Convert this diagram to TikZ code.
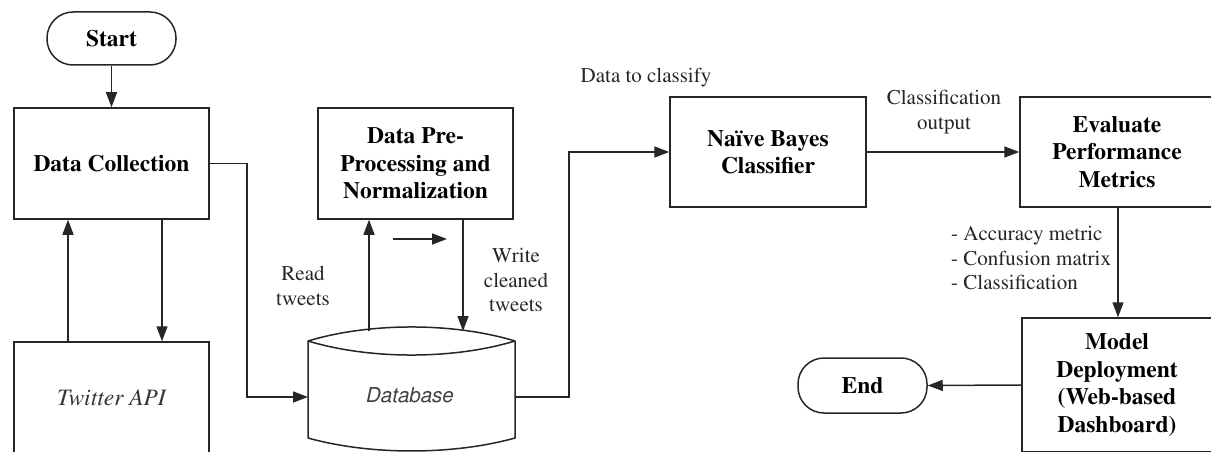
\documentclass[tikz,border=0pt]{standalone}
\usepackage[T1]{fontenc}
\usepackage{mathptmx}
\usepackage{helvet}
\usetikzlibrary{arrows.meta,calc}

\tikzset{
  line/.style={draw=black!85, line width=1.5pt},
  flow/.style={line, -{Triangle[length=15pt,width=11pt]}},
  procbox/.style={line, rectangle, align=center,
    font=\rmfamily\fontsize{23.5}{27.5}\selectfont\bfseries},
  terminal/.style={line, rectangle, rounded corners=26pt,
    minimum width=129pt, align=center,
    font=\rmfamily\fontsize{23.5}{27.5}\selectfont\bfseries},
  lbl/.style={align=center, inner sep=0pt, text=black!85,
    font=\rmfamily\fontsize{21}{24.5}\selectfont},
}

\begin{document}
\begin{tikzpicture}[x=1pt, y=-1pt]
  \clip (0,0) rectangle (1211,452);
  \fill[white] (0,0) rectangle (1211,452);

  % terminals
  \node[terminal, minimum height=53pt] (start) at (111.5,38.5) {Start};
  \node[terminal, minimum height=55pt] (end) at (862.5,385.5) {End};

  % process boxes
  \node[procbox, minimum width=195pt, minimum height=111pt] (dc) at (111.5,163.5) {Data Collection};
  \node[procbox, minimum width=195pt, minimum height=111pt,
        font=\rmfamily\fontsize{23.5}{27.5}\selectfont\itshape, text=black!80] (tw) at (111.5,397.5) {Twitter API};
  \node[procbox, minimum width=195pt, minimum height=111pt] (pre) at (415.5,163.5)
    {Data Pre-\\Processing and\\Normalization};
  \node[procbox, minimum width=196pt, minimum height=110pt] (nb) at (768,152)
    {Na\"{\i}ve Bayes\\Classifier};
  \node[procbox, minimum width=194pt, minimum height=110pt] (ev) at (1117,152)
    {Evaluate\\Performance\\Metrics};
  \node[procbox, minimum width=190pt, minimum height=134pt] (md) at (1117,385)
    {Model\\Deployment\\(Web-based\\Dashboard)};

  % database cylinder
  \node[inner sep=0pt, minimum width=207pt, minimum height=112pt,
        font=\sffamily\fontsize{20.5}{24}\selectfont\itshape, text=black!75] (db) at (409,395) {Database};
  \draw[line, line join=round]
    (308,341) .. controls (370,322.3) and (453,322.3) .. (515,341)
    -- (515,438) .. controls (453,455.3) and (370,455.3) .. (308,438) -- cycle;
  \draw[line] (308,341) .. controls (370,359.7) and (453,359.7) .. (515,341);
  \coordinate (dbread) at (369,331);
  \coordinate (dbwrite) at (463,331);
  \coordinate (dbin) at (308,397);
  \coordinate (dbout) at (515,397);

  % connectors
  \draw[flow] (start) -- (dc);
  \draw[flow] ([xshift=-43.5pt]tw.north) -- ([xshift=-43.5pt]dc.south);
  \draw[flow] ([xshift=50.5pt]dc.south) -- ([xshift=50.5pt]tw.north);
  \draw[flow] (dc.east) -- ++(37,0) |- (dbin);
  \draw[flow] (dbread) -- (dbread |- pre.south);
  \draw[flow] (dbwrite |- pre.south) -- (dbwrite);
  \coordinate (sa) at (393,239);
  \coordinate (sb) at (447,239);
  \draw[flow] (sa) -- (sb);
  \draw[flow] (dbout) -- (569,397) |- (nb.west);
  \draw[flow] (nb.east) -- (ev.west |- nb.east);
  \draw[flow] ([xshift=1pt]ev.south) -- ([xshift=1pt]md.north);
  \draw[flow] (md.west) -- (end.east);

  % labels
  \node[lbl] (lread) at (303,286) {Read\\tweets};
  \node[lbl] (lwrite) at (516,280) {Write\\cleaned\\tweets};
  \node[lbl] (lclass) at (646,78) {Data to classify};
  \node[lbl] (lout) at (944,112) {Classification\\output};
  \node[lbl, align=left, anchor=west] (lmet) at (951,258)
    {- Accuracy metric\\- Confusion matrix\\- Classification};
\end{tikzpicture}
\end{document}
